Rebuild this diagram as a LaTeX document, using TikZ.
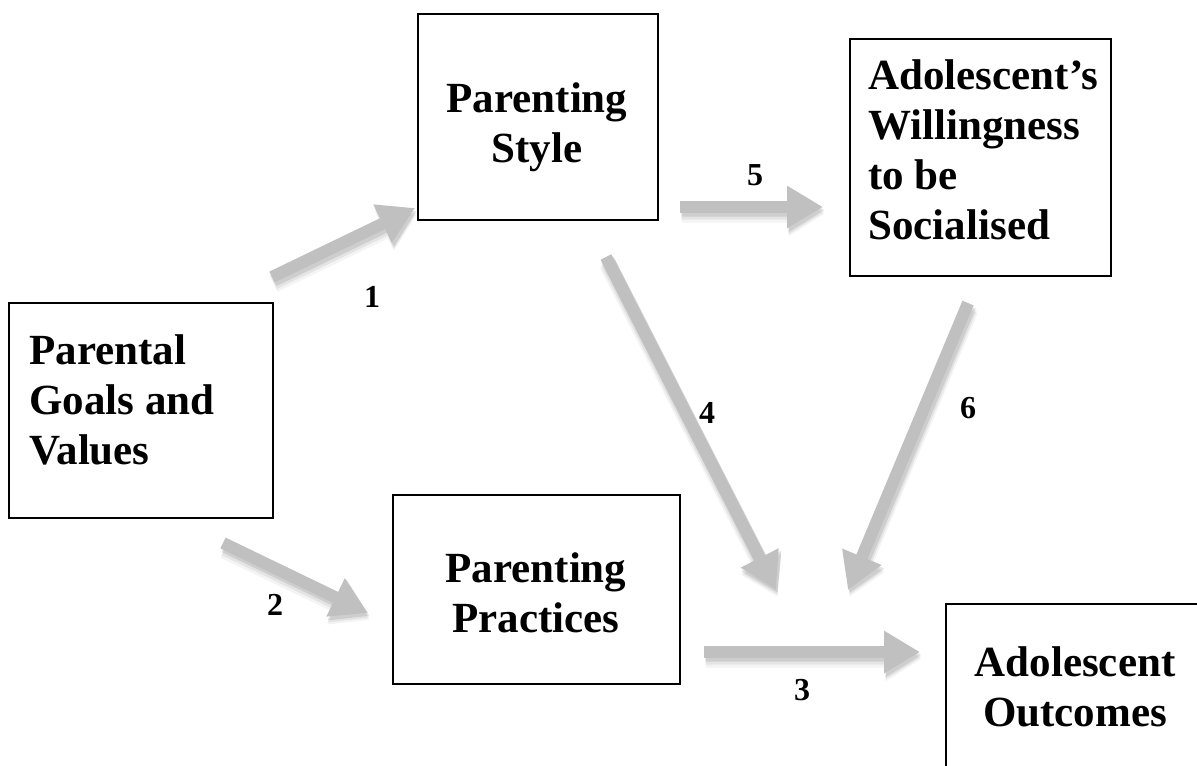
\documentclass[tikz,border=0pt]{standalone}
\usepackage{fontspec}
\setmainfont{Liberation Serif}
\usetikzlibrary{arrows.meta}
\definecolor{arrowgray}{RGB}{192,192,192}
\newcommand\shadedarrow[2]{%
  \foreach \dy/\op/\lw in {1.5/0.14/6.7, 2.5/0.09/7.7, 3.5/0.06/8.7}{%
    \begin{scope}[transparency group, opacity=\op]
      \draw[fatshade, line width=\lw pt] ([xshift=0.8pt,yshift=-\dy pt]#1) -- ([xshift=0.8pt,yshift=-\dy pt]#2);
    \end{scope}}%
  \draw[fat] (#1) -- (#2);}
\begin{document}
\begin{tikzpicture}[x=0.5pt,y=-0.5pt,
  box/.style={draw=black, line width=1pt, inner sep=0pt, anchor=north west},
  boxtext/.style={font=\bfseries\fontsize{21.5}{25}\selectfont, inner sep=0pt},
  num/.style={font=\bfseries\fontsize{16}{18}\selectfont, inner sep=0pt},
  fat/.style={draw=arrowgray, line width=6pt, -{Triangle[width=20pt,length=18pt]}},
  fatshade/.style={draw=black!70, -{Triangle[width=21pt,length=18pt]}}]
\useasboundingbox[fill=white] (0,0) rectangle (1197,765);
\begin{scope}
\clip (0,0) rectangle (1197,765);
% boxes
\node[box, minimum width=132pt, minimum height=107.5pt] (goalsbox) at (8,302) {};
\node[box, minimum width=120pt, minimum height=103pt] (stylebox) at (417,13) {};
\node[box, minimum width=130.5pt, minimum height=118.5pt] (willbox) at (849,38) {};
\node[box, minimum width=143.5pt, minimum height=94.5pt] (practbox) at (392,494) {};
\node[box, minimum width=150pt, minimum height=100pt] (outbox) at (945,603) {};
\end{scope}
% texts
\node[boxtext, anchor=north west, align=left] (goalstext) at (29,334) {Parental\\Goals and\\Values};
\node[boxtext, anchor=north, align=center] (styletext) at (537,82) {Parenting\\Style};
\node[boxtext, anchor=north west, align=left] (willtext) at (868,59) {Adolescent’s\\Willingness\\to be\\Socialised};
\node[boxtext, anchor=north, align=center] (practtext) at (536,552) {Parenting\\Practices};
\node[boxtext, anchor=north, align=center] (outtext) at (1075,646) {Adolescent\\Outcomes};
% arrow end points
\coordinate (t1) at (272,277); \coordinate (h1) at (415,208);
\coordinate (t2) at (223,543); \coordinate (h2) at (368,613);
\coordinate (t3) at (704,652); \coordinate (h3) at (920,652);
\coordinate (t4) at (606,257); \coordinate (h4) at (776,590);
\coordinate (t5) at (680,207); \coordinate (h5) at (823,207);
\coordinate (t6) at (968,303); \coordinate (h6) at (848,590);
\shadedarrow{t1}{h1}
\shadedarrow{t2}{h2}
\shadedarrow{t3}{h3}
\shadedarrow{t4}{h4}
\shadedarrow{t5}{h5}
\shadedarrow{t6}{h6}
% labels
\node[num] (l1) at (372,297) {1};
\node[num] (l2) at (275,605) {2};
\node[num] (l3) at (802,690) {3};
\node[num] (l4) at (707,413) {4};
\node[num] (l5) at (755,175) {5};
\node[num] (l6) at (968,408) {6};
\end{tikzpicture}
\end{document}
